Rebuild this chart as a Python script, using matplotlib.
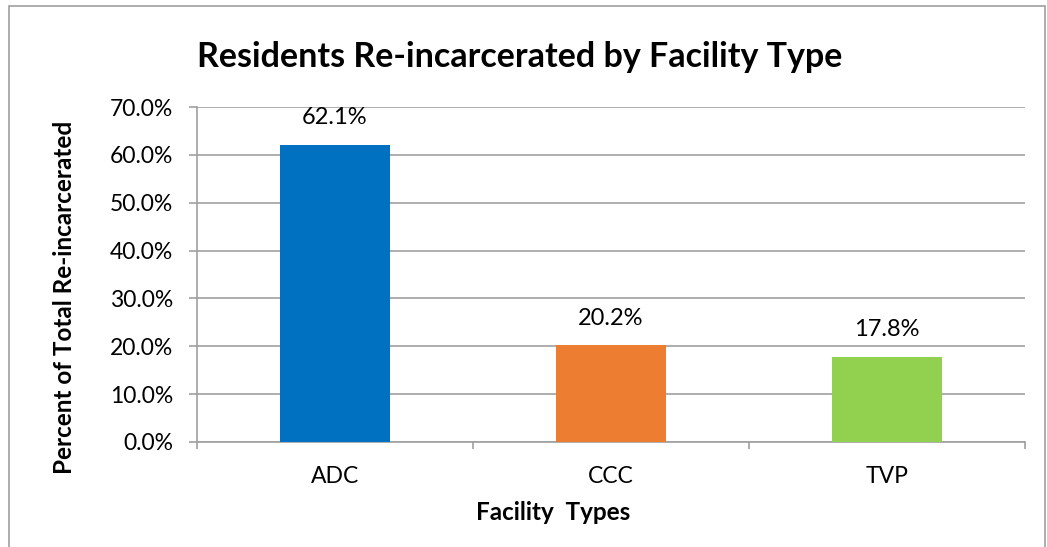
import matplotlib.pyplot as plt
from matplotlib.ticker import FuncFormatter
from matplotlib.patches import Rectangle

plt.rcParams['font.family'] = ['Lato', 'DejaVu Sans']

# data
categories = ["ADC", "CCC", "TVP"]
values = [62.1, 20.2, 17.8]
colors = ["#0070C0", "#ED7D31", "#92D050"]

fig = plt.figure(figsize=(10.47, 5.47), dpi=100)
W, H = 1047, 547
# plot area in pixels: left 197, right 1025, top 107, bottom 442
ax = fig.add_axes([197 / W, 1 - 442 / H, (1025 - 197) / W, (442 - 107) / H])

x = range(len(categories))
ax.bar(x, values, width=0.40, color=colors, zorder=3)
for i, v in enumerate(values):
    ax.annotate(f"{v:.1f}%", (i, v), xytext=(0, 19.5), textcoords="offset points",
                ha="center", va="center", fontsize=17)

ax.set_xlim(-0.5, 2.5)
ax.set_ylim(0, 70)
ax.set_yticks(range(0, 71, 10))
ax.yaxis.set_major_formatter(FuncFormatter(lambda v, p: f"{v:.1f}%"))
ax.set_xticks(list(x))
ax.set_xticklabels(categories)
ax.set_xticks([-0.5, 0.5, 1.5, 2.5], minor=True)
ax.tick_params(axis="x", which="major", length=0, pad=17, labelsize=16.5)
ax.tick_params(axis="x", which="minor", length=5, color="#A0A0A0", width=1.2)
ax.tick_params(axis="y", length=6, color="#A0A0A0", width=1.2, labelsize=16.5, pad=11)
ax.grid(axis="y", color="#A0A0A0", linewidth=1.2, zorder=0)

for s in ["top", "right"]:
    ax.spines[s].set_visible(False)
ax.spines["left"].set_color("#A0A0A0")
ax.spines["bottom"].set_color("#A0A0A0")
ax.spines["left"].set_linewidth(1.2)
ax.spines["bottom"].set_linewidth(1.2)

fig.text(520 / W, 1 - 57 / H, "Residents Re-incarcerated by Facility Type",
         ha="center", va="center", fontsize=24.5, fontweight="bold")
fig.text(65 / W, 1 - 297 / H, "Percent of Total Re-incarcerated", rotation=90,
         ha="center", va="center", fontsize=17.5, fontweight="bold")
fig.text(553 / W, 1 - 513 / H, "Facility  Types",
         ha="center", va="center", fontsize=17.5, fontweight="bold")

# chart border
fig.patches.append(Rectangle((9 / W, -0.1), (1045 - 9) / W, 1.1 - 6 / H,
                             transform=fig.transFigure, fill=False,
                             edgecolor="#A0A0A0", linewidth=1.2))

fig.savefig("out.png", dpi=100)
